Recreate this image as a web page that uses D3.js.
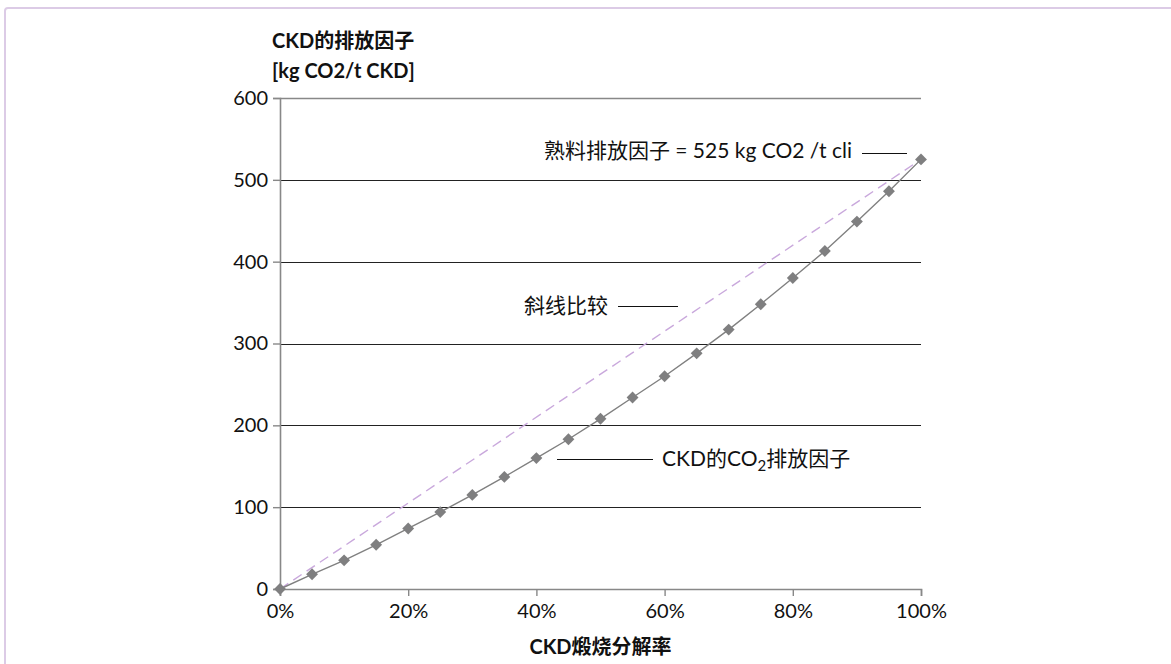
<!DOCTYPE html>
<html>
<head>
<meta charset="utf-8">
<script src="https://cdn.jsdelivr.net/npm/d3@7/dist/d3.min.js"></script>
<style>
  html, body { margin: 0; padding: 0; background: #fff; }
  svg { display: block; }
  text { font-family: Lato, "Noto Sans CJK SC", sans-serif; fill: #111; }
</style>
</head>
<body>
<svg id="chart" width="1171" height="664"></svg>
<script>
// Calcination degree of CKD (fraction) and the resulting CO2 emission factor
const calcination = [0, 0.05, 0.10, 0.15, 0.20, 0.25, 0.30, 0.35, 0.40, 0.45, 0.50,
                     0.55, 0.60, 0.65, 0.70, 0.75, 0.80, 0.85, 0.90, 0.95, 1.00];
const ckdFactor = [0, 18, 35, 54, 74, 94, 115, 137, 160, 183, 208,
                   234, 260, 288, 317, 348, 380, 413, 449, 486, 525];
// Straight comparison line from origin to the clinker factor
const compareX = [0, 1];
const compareY = [0, 525];
const yTicks = [0, 100, 200, 300, 400, 500, 600];
const xTicks = [0, 0.2, 0.4, 0.6, 0.8, 1.0];

const FONT = "Lato, 'Noto Sans CJK SC', sans-serif";
const svg = d3.select("#chart");

// outer frame
svg.append("rect")
  .attr("x", 5).attr("y", 8).attr("width", 1200).attr("height", 700)
  .attr("rx", 3)
  .attr("fill", "none").attr("stroke", "#dccbe6").attr("stroke-width", 2);

const x = d3.scaleLinear().domain([0, 1]).range([280, 921]);
const y = d3.scaleLinear().domain([0, 600]).range([589, 98]);

// horizontal gridlines
svg.append("g").selectAll("line")
  .data(yTicks.filter(v => v > 0))
  .join("line")
  .attr("x1", x(0)).attr("x2", x(1))
  .attr("y1", d => Math.round(y(d)) + 0.5).attr("y2", d => Math.round(y(d)) + 0.5)
  .attr("stroke", d => d === 600 ? "#888" : "#222")
  .attr("stroke-width", d => d === 600 ? 1.6 : 1);

// y axis
const yAxis = svg.append("g")
  .attr("transform", `translate(${x(0)},0)`)
  .call(d3.axisLeft(y).tickValues(yTicks).tickSize(7).tickPadding(5).tickFormat(d3.format("d")));
yAxis.select(".domain").attr("stroke", "#888").attr("stroke-width", 1.6);
yAxis.selectAll(".tick line").attr("stroke", "#888").attr("stroke-width", 1.4);
yAxis.selectAll(".tick text").style("font-size", "20px").attr("fill", "#111")
  .style("font-family", FONT);

// x axis
const xAxis = svg.append("g")
  .attr("transform", `translate(0,${y(0)})`)
  .call(d3.axisBottom(x).tickValues(xTicks).tickSize(7).tickPadding(8).tickFormat(d3.format(".0%")));
xAxis.select(".domain").attr("stroke", "#888").attr("stroke-width", 1.6);
xAxis.selectAll(".tick line").attr("stroke", "#888").attr("stroke-width", 1.4);
xAxis.selectAll(".tick text").style("font-size", "20px").attr("fill", "#111")
  .style("font-family", FONT);

// dashed comparison line
const cmp = d3.line().x(d => x(d[0])).y(d => y(d[1]));
svg.append("path")
  .datum(compareX.map((v, i) => [v, compareY[i]]))
  .attr("d", cmp)
  .attr("fill", "none").attr("stroke", "#c9a8dc").attr("stroke-width", 1.4)
  .attr("stroke-dasharray", "10,6");

// CKD emission factor series
const pts = calcination.map((v, i) => [v, ckdFactor[i]]);
svg.append("path")
  .datum(pts)
  .attr("d", d3.line().x(d => x(d[0])).y(d => y(d[1])))
  .attr("fill", "none").attr("stroke", "#808080").attr("stroke-width", 1.4);

svg.append("g").selectAll("path")
  .data(pts)
  .join("path")
  .attr("transform", d => `translate(${x(d[0])},${y(d[1])})`)
  .attr("d", d3.symbol().type(d3.symbolDiamond2).size(90))
  .attr("fill", "#7f7f80");

// axis titles
const yTitle = svg.append("text").attr("x", 272).attr("y", 48)
  .style("font-size", "20px").style("font-weight", "bold");
yTitle.append("tspan").attr("x", 272).attr("dy", 0).text("CKD的排放因子");
yTitle.append("tspan").attr("x", 272).attr("dy", 30).text("[kg CO2/t CKD]");

svg.append("text")
  .attr("x", x(0.5)).attr("y", 654)
  .attr("text-anchor", "middle")
  .style("font-size", "20px").style("font-weight", "bold")
  .text("CKD煅烧分解率");

// annotations with leader lines
svg.append("text").attr("x", 852).attr("y", 158)
  .attr("text-anchor", "end")
  .style("font-size", "21px").text("熟料排放因子 = 525 kg CO2 /t cli");
svg.append("line").attr("x1", 862).attr("x2", 907).attr("y1", 153.5).attr("y2", 153.5)
  .attr("stroke", "#111").attr("stroke-width", 1);

svg.append("text").attr("x", 608).attr("y", 313)
  .attr("text-anchor", "end")
  .style("font-size", "21px").text("斜线比较");
svg.append("line").attr("x1", 618).attr("x2", 678).attr("y1", 306.5).attr("y2", 306.5)
  .attr("stroke", "#111").attr("stroke-width", 1);

svg.append("line").attr("x1", 557).attr("x2", 653).attr("y1", 459.5).attr("y2", 459.5)
  .attr("stroke", "#111").attr("stroke-width", 1);
const lab = svg.append("text").attr("x", 662).attr("y", 466).style("font-size", "21px");
lab.append("tspan").text("CKD的CO");
lab.append("tspan").attr("dy", 5).style("font-size", "15px").text("2");
lab.append("tspan").attr("dy", -5).text("排放因子");
</script>
</body>
</html>
